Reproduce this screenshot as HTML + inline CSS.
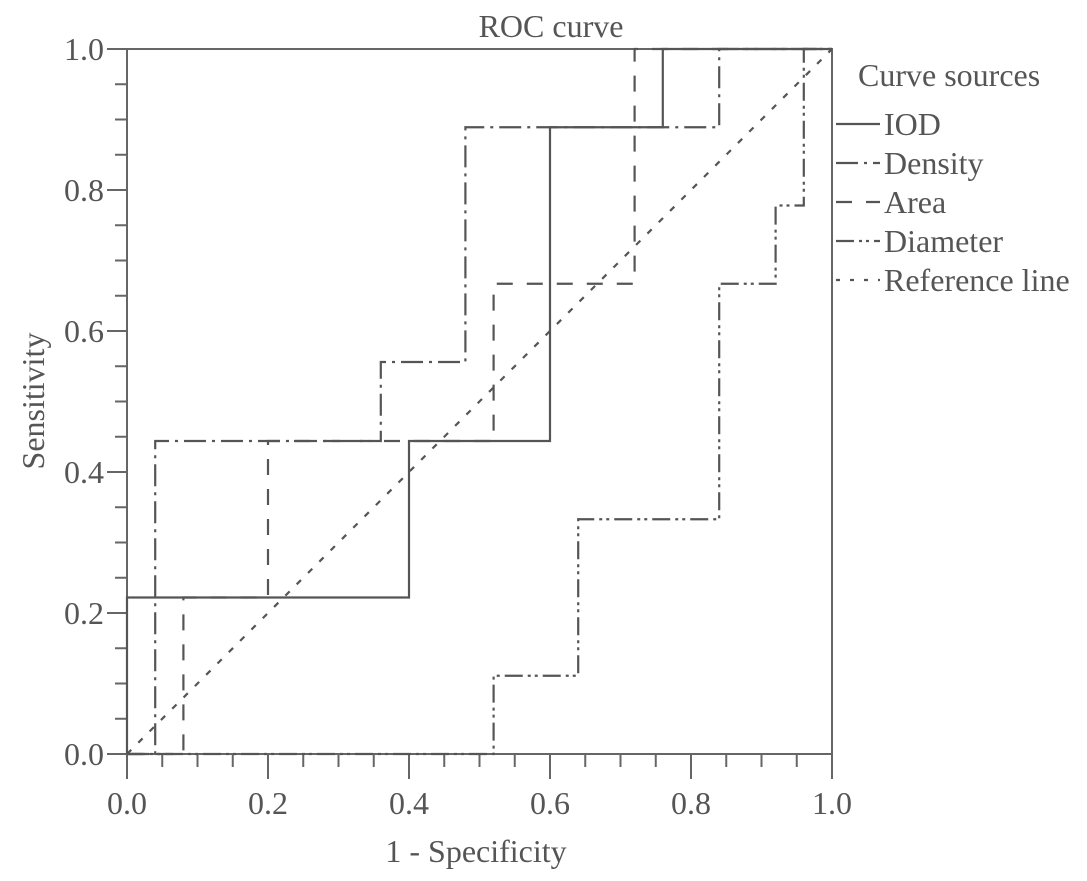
<!DOCTYPE html>
<html><head><meta charset="utf-8"><style>
html,body{margin:0;padding:0;background:#fff;width:1087px;height:881px;overflow:hidden}
svg text{font-family:"Liberation Serif",serif;fill:#555}
</style></head><body>
<svg id="chart" width="1087" height="881" viewBox="0 0 1087 881" xmlns="http://www.w3.org/2000/svg">
<text x="551" y="37" font-size="32" text-anchor="middle">ROC curve</text>
<text x="476" y="862" font-size="32" text-anchor="middle">1 - Specificity</text>
<text transform="translate(44,401) rotate(-90)" font-size="32" text-anchor="middle">Sensitivity</text>
<g id="axes"></g>
<g id="series"></g>
<g id="legend"></g>
</svg>
<script>
const ticks = [0, 0.2, 0.4, 0.6, 0.8, 1.0];
const tickLabels = ["0.0","0.2","0.4","0.6","0.8","1.0"];
const iodX = [0,0,0.4,0.4,0.6,0.6,0.76,0.76,1];
const iodY = [0,0.222,0.222,0.444,0.444,0.889,0.889,1,1];
const densityX = [0,0.04,0.04,0.36,0.36,0.48,0.48,0.84,0.84,1];
const densityY = [0,0,0.444,0.444,0.556,0.556,0.889,0.889,1,1];
const areaX = [0,0.08,0.08,0.2,0.2,0.52,0.52,0.72,0.72,1];
const areaY = [0,0,0.222,0.222,0.444,0.444,0.667,0.667,1,1];
const diamX = [0,0.52,0.52,0.64,0.64,0.84,0.84,0.92,0.92,0.96,0.96,1];
const diamY = [0,0,0.111,0.111,0.333,0.333,0.667,0.667,0.778,0.778,1,1];
const refX = [0,1];
const refY = [0,1];
const seriesNames = ["IOD","Density","Area","Diameter","Reference line"];

const NS="http://www.w3.org/2000/svg";
const X0=127,X1=832,Y0=754,Y1=49;
const sx=v=>X0+(X1-X0)*v, sy=v=>Y0-(Y0-Y1)*v;
function mk(tag,attrs,parent){const e=document.createElementNS(NS,tag);for(const k in attrs)e.setAttribute(k,attrs[k]);parent.appendChild(e);return e;}
const axes=document.getElementById('axes');
const frame=mk('path',{d:`M${X0} ${Y1}H${X1}V${Y0}H${X0}Z`,fill:'none',stroke:'#666','stroke-width':2},axes);


for(let i=0;i<=20;i++){
  const v=i/20, major=i%4===0;
  const tx=mk('line',{x1:sx(v),x2:sx(v),y1:Y0,y2:Y0+(major?25:13),stroke:'#666','stroke-width':2},axes);
  
  
  const ty=mk('line',{x1:X0,x2:X0-(major?20:12),y1:sy(v),y2:sy(v),stroke:'#666','stroke-width':2},axes);
  
  
}
ticks.forEach((t,i)=>{
  const a=mk('text',{x:sx(t),y:814,'font-size':32,'text-anchor':'middle'},axes);a.textContent=tickLabels[i];
  
  
  const b=mk('text',{x:104,y:sy(t)+11,'font-size':32,'text-anchor':'end'},axes);b.textContent=tickLabels[i];
  
  
});
const styles=[
  {xs:iodX,ys:iodY,dash:'',name:'iod-curve'},
  {xs:densityX,ys:densityY,dash:'22 6 3 6',name:'density-curve'},
  {xs:areaX,ys:areaY,dash:'16 14',name:'area-curve'},
  {xs:diamX,ys:diamY,dash:'18 5 3 4 3 5',name:'diameter-curve'},
  {xs:refX,ys:refY,dash:'6 10',name:'reference-line'}
];
const sg=document.getElementById('series');
styles.forEach(s=>{
  const pts=s.xs.map((x,i)=>sx(x)+','+sy(s.ys[i])).join(' ');
  const p=mk('polyline',{points:pts,fill:'none',stroke:'#555','stroke-width':2.2,'stroke-dasharray':s.dash},sg);
  
  
});
const lg=document.getElementById('legend');
const lt=mk('text',{x:858,y:86,'font-size':32},lg);lt.textContent='Curve sources';


const legDash=['','22 6 3 6','16 14','18 5 3 4 3 5','4 10'];
seriesNames.forEach((n,i)=>{
  const y=124+i*39;
  const l=mk('line',{x1:836,x2:880,y1:y,y2:y,stroke:'#555','stroke-width':2.2,'stroke-dasharray':legDash[i]},lg);
  
  
  const t=mk('text',{x:884,y:y+11,'font-size':32},lg);t.textContent=n;
  
  
});
</script>
</body></html>
